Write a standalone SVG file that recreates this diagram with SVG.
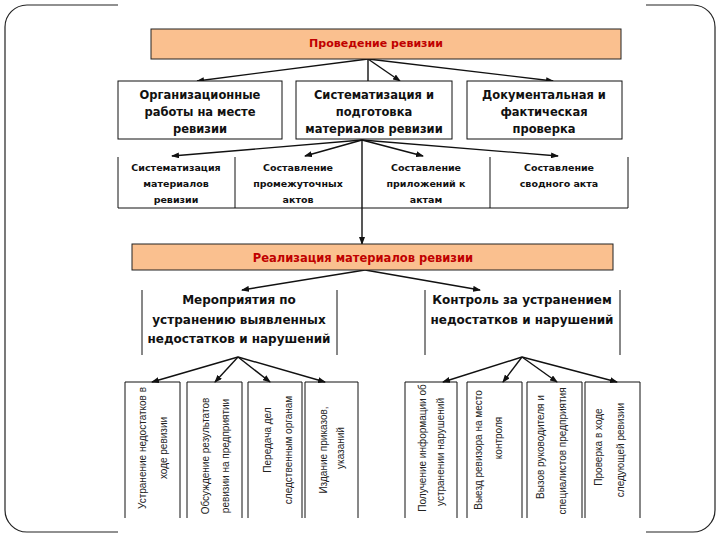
<svg xmlns="http://www.w3.org/2000/svg" width="720" height="540" viewBox="0 0 720 540">
<style>
.frame{fill:none;stroke:#222;stroke-width:1.2}
.box{fill:#fff;stroke:#111;stroke-width:1}
.hdr{fill:#fac08f;stroke:#222;stroke-width:1}
.ln{fill:none;stroke:#111;stroke-width:1}
.con{fill:none;stroke:#111;stroke-width:1.4}
.arr{marker-end:url(#ah)}
.th{font-family:"DejaVu Sans",sans-serif;font-size:11px;font-weight:bold;fill:#c00000;text-anchor:middle}
.th2{font-family:"DejaVu Sans",sans-serif;font-size:11.5px;font-weight:bold;fill:#c00000;text-anchor:middle}
.t1{font-family:"DejaVu Sans",sans-serif;font-size:11.5px;font-weight:bold;fill:#111;text-anchor:middle}
.t2{font-family:"DejaVu Sans",sans-serif;font-size:9.5px;font-weight:bold;fill:#111;text-anchor:middle}
.t3{font-family:"DejaVu Sans",sans-serif;font-size:12px;font-weight:bold;fill:#111;text-anchor:middle}
.tv{font-family:"Liberation Sans",Arial,sans-serif;font-size:10px;fill:#222;text-anchor:middle}
</style>
<defs>
<marker id="ah" markerWidth="8" markerHeight="6" refX="7" refY="3" orient="auto" markerUnits="userSpaceOnUse">
<path d="M0,0 L8,3 L0,6 z" fill="#111"/>
</marker>
</defs>
<rect width="720" height="540" fill="#fff"/>
<path class="frame" d="M118,5 H27 A22,22 0 0 0 5,27 V510 A22,22 0 0 0 27,532 H118"/>
<path class="frame" d="M646,5 H693 A22,22 0 0 1 715,27 V510 A22,22 0 0 1 693,532 H646"/>

<g id="connectors">
<line class="con arr" x1="368" y1="59" x2="197" y2="81"/>
<line class="con" x1="368" y1="59" x2="368" y2="81"/>
<line class="con arr" x1="368" y1="59" x2="400" y2="81"/>
<line class="con arr" x1="368" y1="59" x2="553" y2="81"/>
<line class="con arr" x1="362" y1="140" x2="172" y2="156"/>
<line class="con arr" x1="362" y1="140" x2="305" y2="156"/>
<line class="con arr" x1="362" y1="140" x2="423" y2="156"/>
<line class="con arr" x1="362" y1="140" x2="558" y2="156"/>
<line class="con arr" x1="362" y1="140" x2="362" y2="244"/>
<line class="con arr" x1="365" y1="270" x2="242" y2="290"/>
<line class="con arr" x1="365" y1="270" x2="480" y2="290"/>
<line class="con arr" x1="238" y1="357" x2="152" y2="382"/>
<line class="con arr" x1="238" y1="357" x2="215" y2="382"/>
<line class="con arr" x1="238" y1="357" x2="270" y2="382"/>
<line class="con arr" x1="238" y1="357" x2="325" y2="382"/>
<line class="con arr" x1="522" y1="357" x2="443" y2="382"/>
<line class="con arr" x1="522" y1="357" x2="503" y2="382"/>
<line class="con arr" x1="522" y1="357" x2="557" y2="382"/>
<line class="con arr" x1="522" y1="357" x2="617" y2="382"/>
</g>

<g id="n-provedenie">
<rect class="hdr" x="151" y="29" width="470" height="30"/>
<text class="th" x="376" y="47">Проведение ревизии</text>
</g>

<g id="n-org">
<rect class="box" x="118" y="81" width="164" height="58"/>
<text class="t1" x="200" y="99">Организационные</text>
<text class="t1" x="200" y="116">работы на месте</text>
<text class="t1" x="200" y="133">ревизии</text>
</g>
<g id="n-sist">
<rect class="box" x="296" y="81" width="156" height="58"/>
<text class="t1" x="374" y="99">Систематизация и</text>
<text class="t1" x="374" y="116">подготовка</text>
<text class="t1" x="374" y="133">материалов ревизии</text>
</g>
<g id="n-dok">
<rect class="box" x="467" y="81" width="155" height="58"/>
<text class="t1" x="544" y="99">Документальная и</text>
<text class="t1" x="544" y="116">фактическая</text>
<text class="t1" x="544" y="133">проверка</text>
</g>

<g id="row3-frame">
<path class="ln" d="M118,157 V208 H628 V157 M235,157 V208 M490,157 V208"/>
</g>
<g id="n-sistmat">
<text class="t2" x="176" y="171">Систематизация</text>
<text class="t2" x="176" y="187">материалов</text>
<text class="t2" x="176" y="203">ревизии</text>
</g>
<g id="n-promezh">
<text class="t2" x="298" y="171">Составление</text>
<text class="t2" x="298" y="187">промежуточных</text>
<text class="t2" x="298" y="203">актов</text>
</g>
<g id="n-prilozh">
<text class="t2" x="426" y="171">Составление</text>
<text class="t2" x="426" y="187">приложений к</text>
<text class="t2" x="426" y="203">актам</text>
</g>
<g id="n-svodn">
<text class="t2" x="559" y="171">Составление</text>
<text class="t2" x="559" y="187">сводного акта</text>
</g>

<g id="n-realiz">
<rect class="hdr" x="132" y="244" width="481" height="26"/>
<text class="th2" x="363" y="262">Реализация материалов ревизии</text>
</g>

<g id="n-meropr">
<path class="ln" d="M142,290 V355 M337,290 V355"/>
<text class="t3" x="239" y="304">Мероприятия по</text>
<text class="t3" x="239" y="324">устранению выявленных</text>
<text class="t3" x="239" y="343">недостатков и нарушений</text>
</g>
<g id="n-kontrol">
<path class="ln" d="M425,290 V355 M620,290 V355"/>
<text class="t3" x="522" y="304">Контроль за устранением</text>
<text class="t3" x="522" y="324">недостатков и нарушений</text>
</g>

<g id="n-b1">
<path class="ln" d="M125,518 V382 H180 V518"/>
<text class="tv" transform="translate(146,448) rotate(-90)">Устранение недостатков в</text>
<text class="tv" transform="translate(167,448) rotate(-90)">ходе ревизии</text>
</g>
<g id="n-b2">
<path class="ln" d="M187,518 V382 H242 V518"/>
<text class="tv" transform="translate(209,456) rotate(-90)">Обсуждение результатов</text>
<text class="tv" transform="translate(229,456) rotate(-90)">ревизии на предприятии</text>
</g>
<g id="n-b3">
<path class="ln" d="M248,518 V382 H302 V518"/>
<text class="tv" transform="translate(271,440) rotate(-90)">Передача дел</text>
<text class="tv" transform="translate(292,450) rotate(-90)">следственным органам</text>
</g>
<g id="n-b4">
<path class="ln" d="M305,518 V382 H358 V518"/>
<text class="tv" transform="translate(327,450) rotate(-90)">Издание приказов,</text>
<text class="tv" transform="translate(344,448) rotate(-90)">указаний</text>
</g>
<g id="n-b5">
<path class="ln" d="M405,518 V382 H457 V518"/>
<text class="tv" transform="translate(426,448) rotate(-90)">Получение информации об</text>
<text class="tv" transform="translate(444,452) rotate(-90)">устранении нарушений</text>
</g>
<g id="n-b6">
<path class="ln" d="M467,518 V382 H522 V518"/>
<text class="tv" transform="translate(482,450) rotate(-90)">Выезд ревизора на место</text>
<text class="tv" transform="translate(502,438) rotate(-90)">контроля</text>
</g>
<g id="n-b7">
<path class="ln" d="M527,518 V382 H582 V518"/>
<text class="tv" transform="translate(544,447) rotate(-90)">Вызов руководителя и</text>
<text class="tv" transform="translate(566,451) rotate(-90)">специалистов предприятия</text>
</g>
<g id="n-b8">
<path class="ln" d="M585,518 V382 H640 V518"/>
<text class="tv" transform="translate(602,447) rotate(-90)">Проверка в ходе</text>
<text class="tv" transform="translate(624,450) rotate(-90)">следующей ревизии</text>
</g>
</svg>
